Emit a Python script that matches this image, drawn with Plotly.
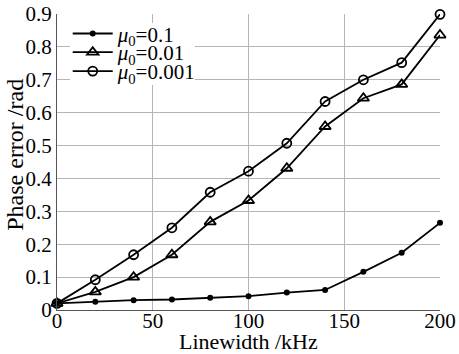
import plotly.graph_objects as go

linewidth_khz = [0, 20, 40, 60, 80, 100, 120, 140, 160, 180, 200]
err_mu_0_1 = [0.020, 0.025, 0.030, 0.032, 0.037, 0.042, 0.053, 0.061, 0.116, 0.174, 0.265]
err_mu_0_01 = [0.020, 0.055, 0.100, 0.168, 0.268, 0.333, 0.431, 0.558, 0.644, 0.686, 0.836]
err_mu_0_001 = [0.020, 0.092, 0.168, 0.250, 0.358, 0.422, 0.507, 0.634, 0.700, 0.752, 0.899]
series_names = ["<i>μ</i><sub>0</sub>=0.1", "<i>μ</i><sub>0</sub>=0.01", "<i>μ</i><sub>0</sub>=0.001"]
x_ticks = [0, 50, 100, 150, 200]
y_ticks = [0, 0.1, 0.2, 0.3, 0.4, 0.5, 0.6, 0.7, 0.8, 0.9]
y_tick_text = ["0", "0.1", "0.2", "0.3", "0.4", "0.5", "0.6", "0.7", "0.8", "0.9"]

FONT = "Liberation Serif, DejaVu Serif, serif"

fig = go.Figure()
styles = [
    dict(symbol="circle", size=6, color="black", line=dict(width=0)),
    dict(symbol="triangle-up-open", size=10, color="black", line=dict(width=1.8, color="black")),
    dict(symbol="circle-open", size=9, color="black", line=dict(width=1.8, color="black")),
]
legend_ids = ["legend", "legend2", "legend3"]
legend_y = [0.933, 0.870, 0.806]
for ys, name, mk, lid in zip([err_mu_0_1, err_mu_0_01, err_mu_0_001], series_names, styles, legend_ids):
    fig.add_trace(go.Scatter(
        x=linewidth_khz, y=ys, name=name, mode="lines+markers",
        line=dict(color="black", width=1.8), marker=mk, cliponaxis=False,
        legend=lid,
    ))

legend_common = dict(
    xanchor="left", yanchor="middle", bgcolor="rgba(0,0,0,0)", borderwidth=0,
    font=dict(family=FONT, size=21), itemwidth=40,
)
fig.update_layout(
    width=459, height=354,
    margin=dict(l=57, r=19, t=14, b=44, autoexpand=False),
    paper_bgcolor="white", plot_bgcolor="white",
    font=dict(family=FONT, size=21, color="black"),
    showlegend=True,
    legend=dict(x=0.028, y=legend_y[0], **legend_common),
    legend2=dict(x=0.028, y=legend_y[1], **legend_common),
    legend3=dict(x=0.028, y=legend_y[2], **legend_common),
    xaxis=dict(
        range=[0, 200], tickvals=x_ticks, showgrid=True, gridcolor="#b5b5b5", gridwidth=1,
        zeroline=False, showline=True, linecolor="#555", linewidth=1,
        ticks="", automargin=False, ticklabelstandoff=-8, ticklabeloverflow="allow",
        tickfont=dict(size=21),
    ),
    yaxis=dict(
        range=[0, 0.9], tickvals=y_ticks, ticktext=y_tick_text, showgrid=True,
        gridcolor="#b5b5b5", gridwidth=1, zeroline=False, showline=True,
        linecolor="#555", linewidth=1, ticks="", automargin=False,
        ticklabeloverflow="allow",
        tickfont=dict(size=21),
    ),
    shapes=[dict(
        type="rect", xref="paper", yref="paper", x0=0.034, x1=0.36, y0=0.76, y1=0.97,
        fillcolor="white", line=dict(width=0), layer="above",
    )],
    annotations=[
        dict(
            text="Linewidth /kHz", xref="paper", yref="paper", x=0.5, y=-0.106,
            xanchor="center", yanchor="middle", showarrow=False,
            font=dict(family=FONT, size=22, color="black"),
        ),
        dict(
            text="Phase error /rad", xref="paper", yref="paper", x=-0.11, y=0.524,
            xanchor="center", yanchor="middle", showarrow=False, textangle=-90,
            font=dict(family=FONT, size=24, color="black"),
        ),
    ],
)

fig.write_html(
    "out.html",
    config={"displayModeBar": False},
    post_script="document.body.style.margin='0';",
)
